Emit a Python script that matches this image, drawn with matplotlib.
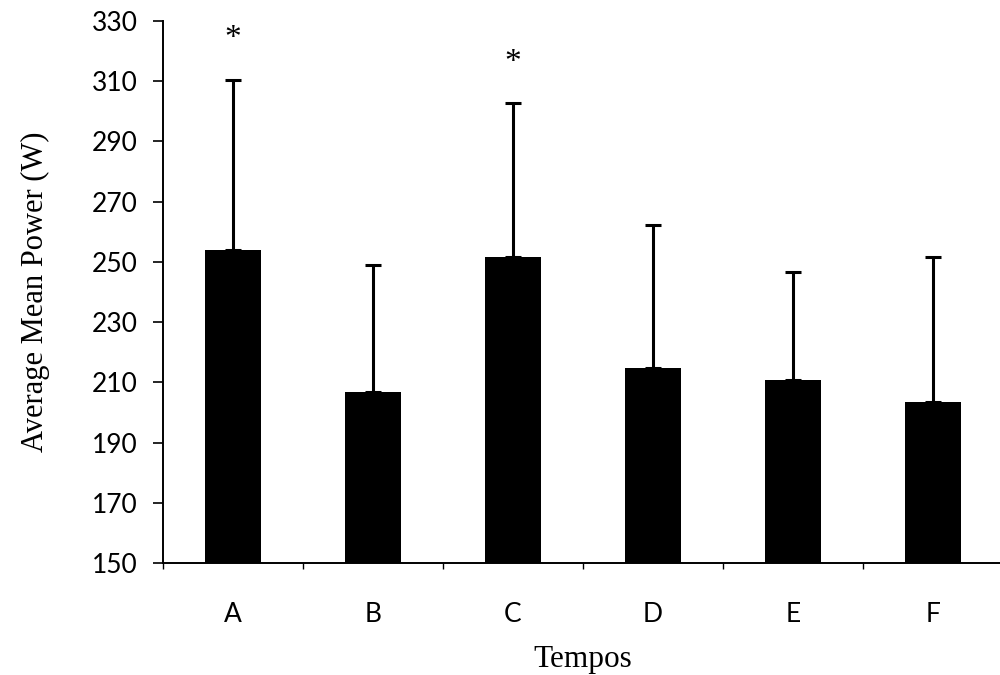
import matplotlib
matplotlib.use("Agg")
import matplotlib.pyplot as plt
import numpy as np

categories = ["A", "B", "C", "D", "E", "F"]
means = [254.0, 206.8, 251.5, 214.8, 210.8, 203.5]
sd_upper = [56.3, 42.1, 51.1, 47.5, 35.7, 48.2]
significant = [True, False, True, False, False, False]
star_y = [324, None, 316, None, None, None]
y_ticks = [150, 170, 190, 210, 230, 250, 270, 290, 310, 330]

fig = plt.figure(figsize=(10, 6.75), dpi=100)
ax = fig.add_axes([0.163, 0.166, 0.84, 0.803])

x = np.arange(len(categories))
ax.bar(x, np.array(means) - 150, bottom=150, width=0.4, color="black", zorder=2)
ax.errorbar(x, means, yerr=[np.zeros(len(means)), sd_upper], fmt="none",
            ecolor="black", elinewidth=2.2, capsize=5.5, capthick=2.2, zorder=3)

for xi, sig, sy in zip(x, significant, star_y):
    if sig:
        ax.text(xi, sy, "*", ha="center", va="center", fontsize=24,
                family="Liberation Serif", color="black")

ax.set_xlim(-0.5, 5.5)
ax.set_ylim(150, 330)
ax.set_yticks(y_ticks)
ax.set_yticklabels([str(v) for v in y_ticks], family="Lato", fontsize=19)
ax.tick_params(axis="y", direction="out", length=7, width=1.2, pad=11)

ax.set_xticks(np.arange(-0.5, 5.6, 1.0))
ax.set_xticklabels([])
ax.tick_params(axis="x", which="major", direction="out", length=4, width=1.0)
ax.set_xticks(x, minor=True)
ax.set_xticklabels(categories, minor=True, family="Lato", fontsize=19)
ax.tick_params(axis="x", which="minor", length=0, pad=28)

for s in ["top", "right"]:
    ax.spines[s].set_visible(False)
for s in ["left", "bottom"]:
    ax.spines[s].set_linewidth(1.4)
    ax.spines[s].set_color("black")

ax.set_ylabel("Average Mean Power (W)", family="Liberation Serif", fontsize=22, labelpad=30)
ax.set_xlabel("Tempos", family="Liberation Serif", fontsize=22.5, labelpad=13)

fig.savefig("out.png", dpi=100)
